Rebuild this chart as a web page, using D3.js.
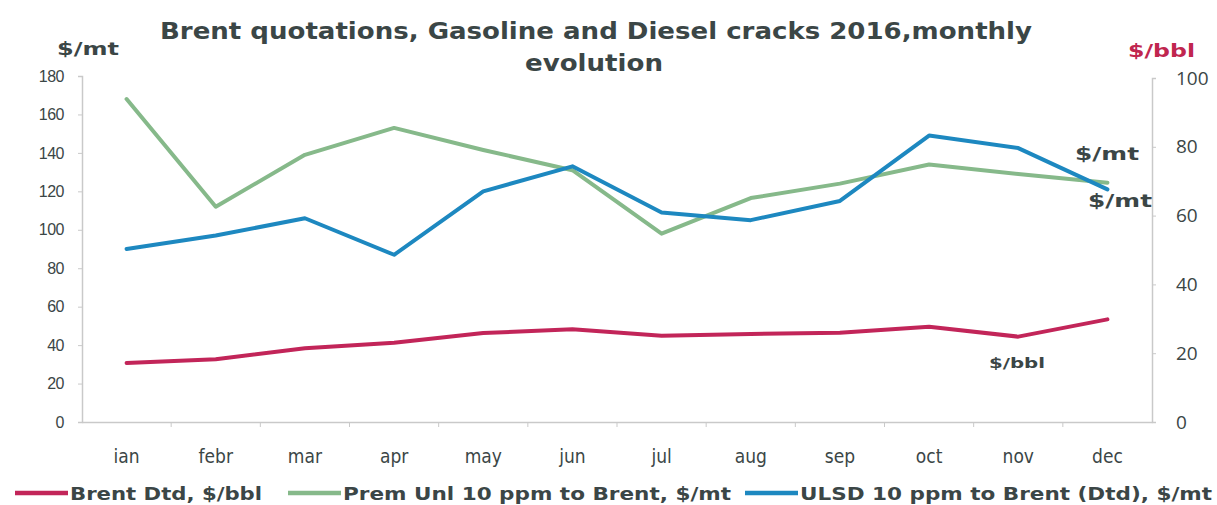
<!DOCTYPE html>
<html><head><meta charset="utf-8">
<script src="https://cdn.jsdelivr.net/npm/d3@7"></script>
<style>body{margin:0;background:#fff}svg{display:block}</style>
</head><body>
<svg id="c" width="1217" height="505"></svg>
<script>
const months = ["ian","febr","mar","apr","may","jun","jul","aug","sep","oct","nov","dec"];
const brent = [30.7,32.6,38.4,41.2,46.3,48.2,44.9,45.8,46.4,49.5,44.4,53.4];
const premUnl = [168,112,139,153,141.5,131,98,116.5,124,134,129,124.5];
const ulsd = [90,97,106,87,120,133,109,105,115,149,142.5,121];
const leftTicks = [0,20,40,60,80,100,120,140,160,180];
const rightTicks = [0,20,40,60,80,100];

const svg = d3.select("#c");
const x0 = 82, x1 = 1152, yTop = 76, yBot = 422;
const x = d3.scaleBand().domain(months).range([x0, x1]);
const yL = d3.scaleLinear().domain([0,180]).range([yBot, yTop]);
const yR = d3.scaleLinear().domain([0,100]).range([yBot, 78]);
const dark = "#3b4646";
const axisCol = "#c9c9c9";

// left axis
const gL = svg.append("g").attr("transform",`translate(${x0},0)`)
  .call(d3.axisLeft(yL).tickValues(leftTicks).tickSize(4).tickPadding(14));
gL.select(".domain").attr("stroke",axisCol).attr("stroke-width",1.5);
gL.selectAll(".tick line").attr("stroke",axisCol);
gL.selectAll(".tick text").attr("fill",dark).attr("font-family","'Liberation Sans Narrow','Liberation Sans',Arial").attr("font-size",16).style("letter-spacing","-0.5px");

// right axis
const gR = svg.append("g").attr("transform",`translate(${x1},0)`)
  .call(d3.axisRight(yR).tickValues(rightTicks).tickSize(4).tickPadding(20));
gR.select(".domain").attr("stroke",axisCol).attr("stroke-width",1.5);
gR.selectAll(".tick line").attr("stroke",axisCol);
gR.selectAll(".tick text").attr("fill",dark).attr("font-family","'Open Sans','Liberation Sans',Arial").attr("font-size",19);

// bottom axis
const gB = svg.append("g").attr("transform",`translate(0,${yBot})`)
  .call(d3.axisBottom(x).tickSize(0).tickPadding(28));
gB.select(".domain").attr("stroke",axisCol).attr("stroke-width",1.5);
gB.selectAll(".tick text").attr("fill",dark).attr("font-family","'DejaVu Sans Condensed','DejaVu Sans'").attr("font-size",19);
// band boundary ticks
svg.append("g").selectAll("line").data(months.slice(1)).join("line")
  .attr("x1",d=>x(d)).attr("x2",d=>x(d)).attr("y1",yBot).attr("y2",yBot+5)
  .attr("stroke",axisCol);

// lines
const cx = d => x(d) + x.bandwidth()/2;
function drawLine(vals, color){
  const line = d3.line().x((d,i)=>cx(months[i])).y(d=>yL(d));
  svg.append("path").datum(vals).attr("d",line).attr("fill","none")
    .attr("stroke",color).attr("stroke-width",4).attr("stroke-linejoin","round").attr("stroke-linecap","round");
}
const cRed = "#c22559", cGreen = "#86b98a", cBlue = "#1d88c0";
drawLine(brent, cRed);
drawLine(premUnl, cGreen);
drawLine(ulsd, cBlue);

const bold = "'DejaVu Sans',Verdana,sans-serif";
function txt(s, xx, yy, size, len, color, anchor){
  const t = svg.append("text").attr("x",xx).attr("y",yy)
    .attr("font-family",bold).attr("font-weight","bold").attr("font-size",size)
    .attr("fill",color||dark).text(s);
  if(anchor) t.attr("text-anchor",anchor);
  if(len) t.attr("textLength",len).attr("lengthAdjust","spacingAndGlyphs");
  return t;
}
// title
txt("Brent quotations, Gasoline and Diesel cracks 2016,monthly", 160, 39, 23, 872);
txt("evolution", 525, 71, 23, 138);

// unit labels
txt("$/mt", 57, 55, 17, 62);
txt("$/bbl", 1128, 57, 17, 67, "#c0264f");
// annotations
txt("$/mt", 1075, 160, 17, 64);
txt("$/mt", 1088, 207, 17, 64);
txt("$/bbl", 989, 368, 14, 56);

// legend
const legend = [
  {name:"Brent Dtd, $/bbl", color:cRed, lx:15, len:192},
  {name:"Prem Unl 10 ppm to Brent, $/mt", color:cGreen, lx:288, len:388},
  {name:"ULSD 10 ppm to Brent (Dtd), $/mt", color:cBlue, lx:745, len:412}
];
legend.forEach(l=>{
  svg.append("line").attr("x1",l.lx).attr("x2",l.lx+53).attr("y1",493).attr("y2",493).attr("stroke",l.color).attr("stroke-width",4.5);
  txt(l.name, l.lx+55, 500, 18, l.len);
});
</script>
</body></html>
